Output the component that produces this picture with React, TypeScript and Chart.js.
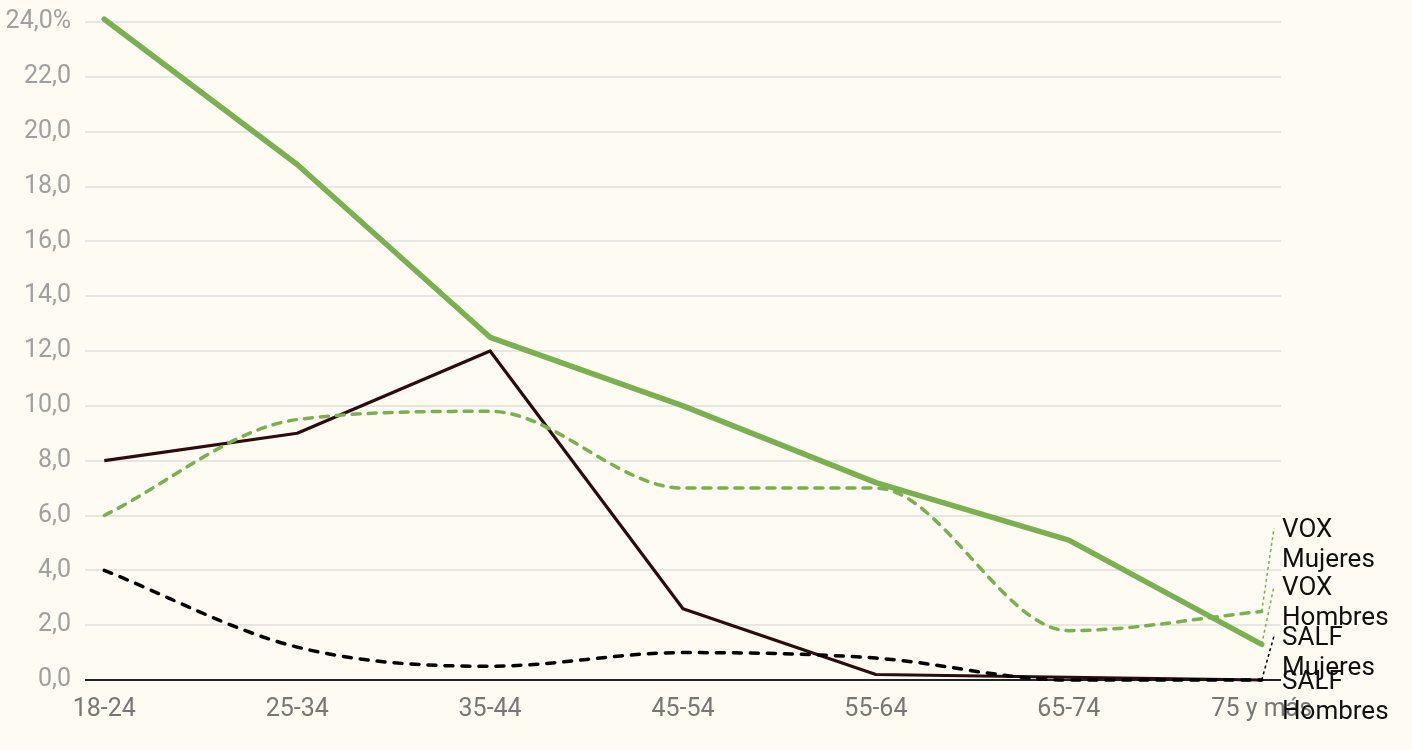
import React, { useEffect, useRef } from "react";
import { Chart, registerables } from "chart.js";

Chart.register(...registerables);

const categories = ["18-24", "25-34", "35-44", "45-54", "55-64", "65-74", "75 y más"];
const voxHombres = [24.1, 18.8, 12.5, 10.0, 7.2, 5.1, 1.3];
const voxMujeres = [6.0, 9.5, 9.8, 7.0, 7.0, 1.8, 2.5];
const salfHombres = [8.0, 9.0, 12.0, 2.6, 0.2, 0.1, 0.0];
const salfMujeres = [4.0, 1.2, 0.5, 1.0, 0.8, 0.0, 0.0];
const yTicks = [0, 2, 4, 6, 8, 10, 12, 14, 16, 18, 20, 22, 24];
const seriesLabels = [
  ["VOX", "Mujeres"],
  ["VOX", "Hombres"],
  ["SALF", "Mujeres"],
  ["SALF", "Hombres"],
];

const GREEN = "#7ab04f";
const DARK = "#2b0d0d";
const BG = "#fefbf3";

const endLabels = {
  id: "endLabels",
  afterDatasetsDraw(chart: any) {
    const { ctx, scales } = chart;
    const xs = scales.x;
    const ys = scales.y;
    const items = chart.data.datasets.map((ds: any, i: number) => {
      const last = ds.data.length - 1;
      const pt = ds.data[last];
      return {
        lines: ds.endLabel,
        color: ds.connectorColor,
        ex: xs.getPixelForValue(pt.x),
        ey: ys.getPixelForValue(pt.y),
        order: i,
      };
    });
    const sorted = [...items].sort((a, b) => b.ey - a.ey || b.order - a.order);
    const gaps = [44, 50, 58];
    let prev = Infinity;
    sorted.forEach((it: any, k: number) => {
      const ly = k === 0 ? it.ey + 2 : Math.min(it.ey + 2, prev - gaps[k - 1]);
      it.ly = ly;
      prev = ly;
    });
    const lx = chart.chartArea.right + 1;
    ctx.save();
    sorted.forEach((it: any) => {
      if (Math.abs(it.ly - it.ey) > 4) {
        ctx.beginPath();
        ctx.setLineDash([3, 3]);
        ctx.lineWidth = 1.5;
        ctx.strokeStyle = it.color;
        ctx.moveTo(it.ex, it.ey);
        ctx.lineTo(lx - 8, it.ly - 2);
        ctx.stroke();
      }
    });
    ctx.setLineDash([]);
    ctx.fillStyle = "#111";
    ctx.font = "26px Roboto";
    ctx.textAlign = "left";
    ctx.textBaseline = "middle";
    sorted.forEach((it: any) => {
      it.lines.forEach((t: string, k: number) => {
        ctx.fillText(t, lx, it.ly + k * 30);
      });
    });
    ctx.restore();
  },
};

const bgPlugin = {
  id: "bg",
  beforeDraw(chart: any) {
    const { ctx } = chart;
    ctx.save();
    ctx.fillStyle = BG;
    ctx.fillRect(0, 0, chart.width, chart.height);
    ctx.restore();
  },
};

export default function App() {
  const ref = useRef<HTMLCanvasElement>(null);
  useEffect(() => {
    document.body.style.margin = "0";
    document.body.style.background = BG;
    const toXY = (arr: number[]) => arr.map((v, i) => ({ x: i, y: v }));
    const chart = new Chart(ref.current!, {
      type: "line",
      data: {
        datasets: [
          {
            label: "VOX Mujeres",
            data: toXY(voxMujeres),
            borderColor: GREEN,
            borderWidth: 3.5,
            borderDash: [8, 8],
            borderCapStyle: "round",
            cubicInterpolationMode: "monotone",
            pointRadius: 0,
            clip: false,
            endLabel: seriesLabels[0],
            connectorColor: GREEN,
          } as any,
          {
            label: "VOX Hombres",
            data: toXY(voxHombres),
            borderColor: GREEN,
            borderWidth: 5.5,
            borderCapStyle: "round",
            borderJoinStyle: "round",
            pointRadius: 0,
            clip: false,
            endLabel: seriesLabels[1],
            connectorColor: GREEN,
          } as any,
          {
            label: "SALF Mujeres",
            data: toXY(salfMujeres),
            borderColor: "#000",
            borderWidth: 3.5,
            borderDash: [8, 9],
            borderCapStyle: "round",
            cubicInterpolationMode: "monotone",
            pointRadius: 0,
            clip: false,
            endLabel: seriesLabels[2],
            connectorColor: "#000",
          } as any,
          {
            label: "SALF Hombres",
            data: toXY(salfHombres),
            borderColor: DARK,
            borderWidth: 3.2,
            borderJoinStyle: "round",
            pointRadius: 0,
            clip: false,
            endLabel: seriesLabels[3],
            connectorColor: "#000",
          } as any,
        ],
      },
      options: {
        animation: false,
        responsive: false,
        maintainAspectRatio: false,
        layout: { padding: { top: 22, right: 131, bottom: 0, left: 0 } },
        plugins: { legend: { display: false }, tooltip: { enabled: false } },
        scales: {
          x: {
            type: "linear",
            min: -0.1,
            max: 6.1,
            afterBuildTicks: (s: any) => {
              s.ticks = categories.map((_, i) => ({ value: i }));
            },
            afterFit: (s: any) => {
              s.height = 70;
            },
            grid: { display: false, drawTicks: false },
            border: { display: false },
            ticks: {
              padding: 15,
              color: "#777",
              font: { family: "Roboto", size: 25 },
              maxRotation: 0,
              autoSkip: false,
              callback: (v: any) => categories[v] ?? "",
            },
          },
          y: {
            min: 0,
            max: 24,
            afterBuildTicks: (s: any) => {
              s.ticks = yTicks.map((v) => ({ value: v }));
            },
            afterFit: (s: any) => {
              s.width = 85;
              s.paddingTop = 0;
            },
            grid: {
              drawTicks: false,
              lineWidth: 2,
              color: (c: any) => (c.tick && c.tick.value === 0 ? "#222" : "#e8e6e2"),
            },
            border: { display: false },
            ticks: {
              padding: 14,
              color: "#a0a0a0",
              font: { family: "Roboto", size: 25, lineHeight: 0.8 },
              callback: (v: any) => {
                const s = Number(v).toFixed(1).replace(".", ",");
                return v === 24 ? s + "%" : s;
              },
            },
          },
        },
      } as any,
      plugins: [bgPlugin, endLabels],
    });
    return () => chart.destroy();
  }, []);
  return (
    <div style={{ width: 1412, height: 750 }}>
      <canvas ref={ref} width={1412} height={750} style={{ display: "block" }} />
    </div>
  );
}
